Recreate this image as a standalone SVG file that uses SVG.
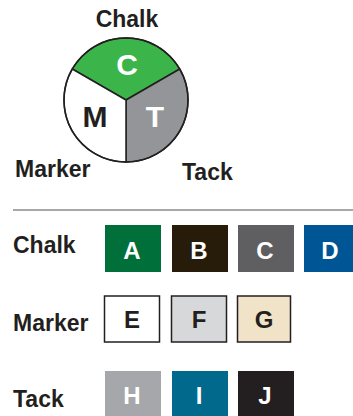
<svg xmlns="http://www.w3.org/2000/svg" width="353" height="416" viewBox="0 0 353 416">
<style>
text{font-family:"Liberation Sans",Arial,sans-serif;font-weight:bold}
.lbl{font-size:23px;fill:#231f20}
.big{font-size:30px;text-anchor:middle}
.box{font-size:24px;text-anchor:middle}
.w{fill:#fff}
.k{fill:#231f20}
.sec{stroke:#231f20;stroke-width:1.5}
.ob{stroke:#231f20;stroke-width:1.5}
</style>
<rect width="353" height="416" fill="#fff"/>
<g id="pie">
<path class="sec" fill="#3bb44a" d="M126 100 L72.3 69 A62 62 0 0 1 179.7 69 Z"/>
<path class="sec" fill="#939598" d="M126 100 L179.7 69 A62 62 0 0 1 126 162 Z"/>
<path class="sec" fill="#fff" d="M126 100 L126 162 A62 62 0 0 1 72.3 69 Z"/>
<circle cx="126" cy="100" r="62" fill="none" stroke="#231f20" stroke-width="1.5"/>
<text class="big w" x="127" y="75">C</text>
<text class="big k" x="95" y="127">M</text>
<text class="big w" x="155" y="127">T</text>
</g>
<g id="pie-labels">
<text class="lbl" x="127" y="27" text-anchor="middle">Chalk</text>
<text class="lbl" x="15" y="177">Marker</text>
<text class="lbl" x="182" y="180">Tack</text>
</g>
<g id="divider"><line x1="13" y1="210" x2="353" y2="210" stroke="#8a8a8c" stroke-width="1.5"/></g>
<g id="chalk-row">
<text class="lbl" x="13" y="253">Chalk</text>
<rect x="105" y="225" width="56" height="47" fill="#006f3a"/><text class="box w" x="132" y="259">A</text>
<rect x="172" y="225" width="56" height="47" fill="#271b09"/><text class="box w" x="199" y="259">B</text>
<rect x="238" y="225" width="56" height="47" fill="#5f5f61"/><text class="box w" x="265" y="259">C</text>
<rect x="304" y="225" width="56" height="47" fill="#005695"/><text class="box w" x="330" y="259">D</text>
</g>
<g id="marker-row">
<text class="lbl" x="13" y="331">Marker</text>
<rect class="ob" x="104.5" y="296" width="55" height="46" fill="#fff"/><text class="box k" x="132" y="328">E</text>
<rect class="ob" x="171.5" y="296" width="55" height="46" fill="#d7d8da"/><text class="box k" x="199" y="328">F</text>
<rect class="ob" x="237.5" y="296" width="53" height="46" fill="#f0e3c8"/><text class="box k" x="264" y="328">G</text>
</g>
<g id="tack-row">
<text class="lbl" x="13" y="407">Tack</text>
<rect x="105" y="371" width="56" height="45" fill="#a6a7aa"/><text class="box w" x="132" y="404">H</text>
<rect x="172" y="371" width="56" height="45" fill="#00698c"/><text class="box w" x="199" y="404">I</text>
<rect x="238" y="371" width="56" height="45" fill="#231f20"/><text class="box w" x="265" y="404">J</text>
</g>
</svg>
